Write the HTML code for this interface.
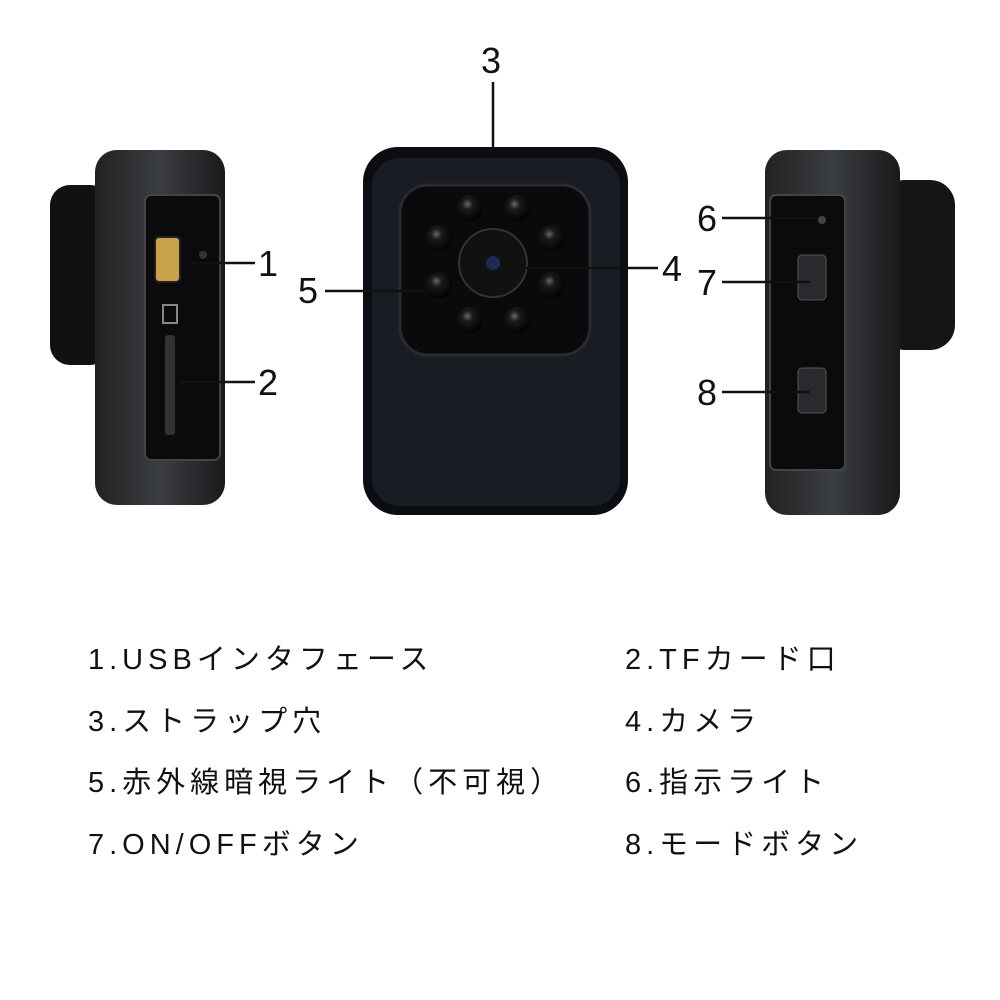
<!DOCTYPE html>
<html><head><meta charset="utf-8"><style>
body{margin:0;background:#fff;width:1000px;height:1000px;overflow:hidden;position:relative;font-family:"Liberation Sans","Noto Sans CJK JP",sans-serif}
.n{position:absolute;font-size:36px;color:#111;font-family:"Liberation Sans",sans-serif}
.t{position:absolute;font-size:29px;color:#111;letter-spacing:5px;white-space:nowrap;font-family:"Liberation Sans","Noto Sans CJK JP",sans-serif}
</style></head><body>
<svg width="1000" height="560" style="position:absolute;left:0;top:0">
<defs>
<linearGradient id="g1" x1="0" x2="1"><stop offset="0" stop-color="#222"/><stop offset=".5" stop-color="#3a3d42"/><stop offset="1" stop-color="#1a1a1c"/></linearGradient>
<radialGradient id="led" cx=".4" cy=".35" r=".7"><stop offset="0" stop-color="#666"/><stop offset=".3" stop-color="#1a1a1a"/><stop offset="1" stop-color="#000"/></radialGradient>
</defs>
<!-- left device -->
<rect x="50" y="185" width="60" height="180" rx="20" fill="#111"/>
<rect x="95" y="150" width="130" height="355" rx="22" fill="url(#g1)"/>
<rect x="145" y="195" width="75" height="265" rx="6" fill="#0b0b0d" stroke="#444" stroke-width="2"/>
<rect x="155" y="237" width="25" height="45" rx="4" fill="#c9a24a" stroke="#222" stroke-width="2"/>
<circle cx="203" cy="255" r="4" fill="#333"/>
<rect x="163" y="305" width="14" height="18" fill="none" stroke="#888" stroke-width="2"/>
<rect x="165" y="335" width="10" height="100" rx="3" fill="#333"/>
<!-- front device -->
<rect x="363" y="147" width="265" height="368" rx="35" fill="#0c0d12"/>
<rect x="372" y="158" width="248" height="348" rx="28" fill="#1a1c24"/>
<rect x="400" y="185" width="190" height="170" rx="28" fill="#0a0a0c" stroke="#2a2a30" stroke-width="3"/>
<g fill="url(#led)">
<circle cx="470" cy="208" r="13"/><circle cx="517" cy="208" r="13"/>
<circle cx="439" cy="238" r="13"/><circle cx="552" cy="238" r="13"/>
<circle cx="439" cy="285" r="13"/><circle cx="552" cy="285" r="13"/>
<circle cx="470" cy="320" r="13"/><circle cx="517" cy="320" r="13"/>
</g>
<circle cx="493" cy="263" r="34" fill="#111" stroke="#333" stroke-width="2"/>
<circle cx="493" cy="263" r="7" fill="#1d2a55"/>
<!-- right device -->
<rect x="880" y="180" width="75" height="170" rx="25" fill="#151515"/>
<rect x="765" y="150" width="135" height="365" rx="22" fill="url(#g1)"/>
<rect x="770" y="195" width="75" height="275" rx="6" fill="#0b0b0d" stroke="#444" stroke-width="2"/>
<circle cx="822" cy="220" r="4" fill="#444"/>
<rect x="798" y="255" width="28" height="45" rx="4" fill="#2a2a2e" stroke="#555"/>
<rect x="798" y="368" width="28" height="45" rx="4" fill="#2a2a2e" stroke="#555"/>
<!-- connectors -->
<g stroke="#111" stroke-width="2.5">
<line x1="493" y1="82" x2="493" y2="148"/>
<line x1="190" y1="263" x2="255" y2="263"/>
<line x1="180" y1="382" x2="255" y2="382"/>
<line x1="325" y1="291" x2="425" y2="291"/>
<line x1="520" y1="268" x2="658" y2="268"/>
<line x1="722" y1="218" x2="818" y2="218"/>
<line x1="722" y1="282" x2="810" y2="282"/>
<line x1="722" y1="392" x2="810" y2="392"/>
</g>
</svg>
<div class="n" style="left:481px;top:40px">3</div>
<div class="n" style="left:258px;top:243px">1</div>
<div class="n" style="left:258px;top:362px">2</div>
<div class="n" style="left:298px;top:270px">5</div>
<div class="n" style="left:662px;top:248px">4</div>
<div class="n" style="left:697px;top:198px">6</div>
<div class="n" style="left:697px;top:262px">7</div>
<div class="n" style="left:697px;top:372px">8</div>
<div class="t" style="left:88px;top:636px">1.USBインタフェース</div>
<div class="t" style="left:625px;top:636px">2.TFカード口</div>
<div class="t" style="left:88px;top:698px">3.ストラップ穴</div>
<div class="t" style="left:625px;top:698px">4.カメラ</div>
<div class="t" style="left:88px;top:759px">5.赤外線暗視ライト（不可視）</div>
<div class="t" style="left:625px;top:759px">6.指示ライト</div>
<div class="t" style="left:88px;top:821px">7.ON/OFFボタン</div>
<div class="t" style="left:625px;top:821px">8.モードボタン</div>
</body></html>
